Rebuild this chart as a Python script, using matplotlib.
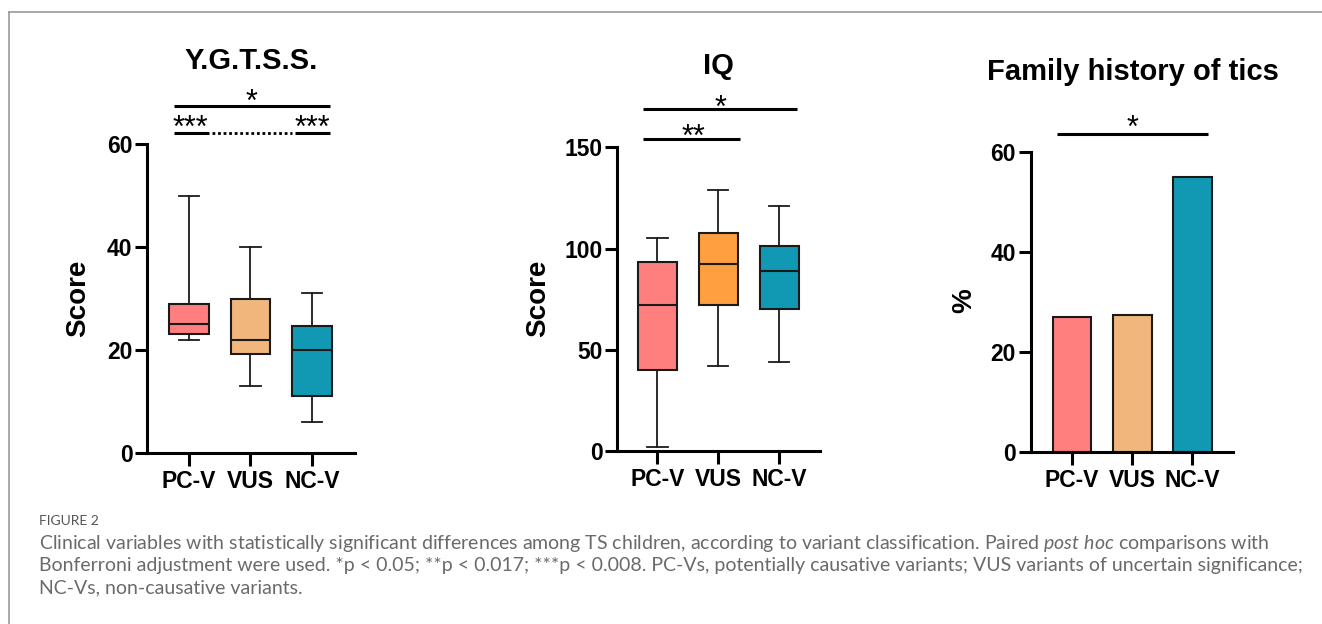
import matplotlib
matplotlib.use("Agg")
import matplotlib.pyplot as plt
from matplotlib.lines import Line2D
from matplotlib import font_manager

# ---------------- data ----------------
categories = ["PC-V", "VUS", "NC-V"]

# Y.G.T.S.S. box plot (whisker low, Q1, median, Q3, whisker high)
ygtss_whislo = [22, 13, 6]
ygtss_q1 = [23.1, 19.2, 11.1]
ygtss_med = [25, 22, 20]
ygtss_q3 = [28.9, 29.9, 24.7]
ygtss_whishi = [50, 40, 31]

# IQ box plot
iq_whislo = [2, 42, 44]
iq_q1 = [40, 72, 70.3]
iq_med = [72, 92.2, 89]
iq_q3 = [93.5, 107.8, 101.4]
iq_whishi = [105, 129, 121]

# Family history of tics (%)
family_pct = [27.1, 27.4, 54.9]

ygtss_yticks = [0, 20, 40, 60]
iq_yticks = [0, 50, 100, 150]
family_yticks = [0, 20, 40, 60]

colors_a = ["#FF7F7F", "#F0B67C", "#1199B3"]
colors_iq = ["#FF7F7F", "#FF9F3F", "#1199B3"]

W, H = 1322, 624
fig = plt.figure(figsize=(W / 100, H / 100), dpi=100)

FONT = "Liberation Sans"


def px(x, y):
    return x / W, (H - y) / H


def make_ax(left, right, top, bottom):
    l, b = px(left, bottom)
    r, t = px(right, top)
    ax = fig.add_axes([l, b, r - l, t - b])
    for s in ["top", "right"]:
        ax.spines[s].set_visible(False)
    for s in ["left", "bottom"]:
        ax.spines[s].set_linewidth(2.2)
    ax.tick_params(axis="both", length=9, width=2.2, direction="out")
    ax.tick_params(axis="y", pad=1.5)
    ax.tick_params(axis="x", pad=3)
    ax.patch.set_alpha(0)
    return ax


def style_ticks(ax, yticks):
    ax.set_yticks(yticks)
    ax.set_yticklabels([str(v) for v in yticks], fontsize=16.5,
                       fontweight="bold", family=FONT)
    ax.set_xticks(range(len(categories)))
    ax.set_xticklabels(categories, fontsize=16.5, fontweight="bold", family=FONT)


def box_panel(ax, lo, q1, med, q3, hi, colors):
    stats = []
    for i in range(len(categories)):
        stats.append(dict(whislo=lo[i], q1=q1[i], med=med[i], q3=q3[i],
                          whishi=hi[i], label=categories[i]))
    bp = ax.bxp(stats, positions=list(range(len(categories))), widths=0.64,
                capwidths=0.33, patch_artist=True, showfliers=False,
                boxprops=dict(linewidth=1.5, edgecolor="#1a1a1a"),
                medianprops=dict(color="#1a1a1a", linewidth=1.5),
                whiskerprops=dict(color="#1a1a1a", linewidth=1.3),
                capprops=dict(color="#1a1a1a", linewidth=1.3))
    for patch, c in zip(bp["boxes"], colors):
        patch.set_facecolor(c)


def sig_line(ax, x0, x1, y, ls="-", lw=2.2):
    ax.add_line(Line2D([x0, x1], [y, y], color="black", lw=lw, ls=ls,
                       clip_on=False, solid_capstyle="butt"))


def star(ax, x, y, s, fs=22):
    ax.annotate(s, xy=(x, y), xytext=(0, -0.60 * fs), textcoords="offset points",
                ha="center", va="baseline", fontsize=fs, family=FONT,
                annotation_clip=False)


# ---------------- panel 1: Y.G.T.S.S. ----------------
ax1 = make_ax(147, 355, 144, 453)
box_panel(ax1, ygtss_whislo, ygtss_q1, ygtss_med, ygtss_q3, ygtss_whishi, colors_a)
ax1.set_xlim(-0.68, 2.7)
ax1.set_ylim(0, 60)
style_ticks(ax1, ygtss_yticks)
sig_line(ax1, -0.244, 2.30, 67.4)
sig_line(ax1, -0.244, 0.32, 62.1)
sig_line(ax1, 1.72, 2.30, 62.1)
sig_line(ax1, 0.37, 1.68, 62.1, ls=(0, (1, 1)), lw=2.0)
star(ax1, 1.02, 70.0, "*")
star(ax1, 0.02, 64.9, "***")
star(ax1, 2.0, 64.9, "***")

# ---------------- panel 2: IQ ----------------
ax2 = make_ax(617.3, 820, 147.3, 451)
box_panel(ax2, iq_whislo, iq_q1, iq_med, iq_q3, iq_whishi, colors_iq)
ax2.set_xlim(-0.66, 2.67)
ax2.set_ylim(0, 150)
style_ticks(ax2, iq_yticks)
sig_line(ax2, -0.24, 2.29, 168.9)
sig_line(ax2, -0.24, 1.35, 154.1)
star(ax2, 1.03, 174.3, "*")
star(ax2, 0.59, 159.5, "**")

# ---------------- panel 3: Family history ----------------
ax3 = make_ax(1030.7, 1233, 151.7, 452.3)
ax3.bar(range(len(categories)), family_pct, width=0.645, color=colors_a,
        edgecolor="#1a1a1a", linewidth=1.5)
ax3.set_xlim(-0.69, 2.68)
ax3.set_ylim(0, 60)
style_ticks(ax3, family_yticks)
sig_line(ax3, -0.26, 2.27, 63.6)
star(ax3, 1.0, 66.6, "*")

# ---------------- titles & labels ----------------
for (x, y, s) in [(251, 69, "Y.G.T.S.S."), (718, 74, "IQ"),
                  (1132.5, 80, "Family history of tics")]:
    fig.text(*px(x, y), s, ha="center", va="baseline", fontsize=21,
             fontweight="bold", family=FONT)

for (x, y, s) in [(78, 298, "Score"), (538, 298, "Score"), (964, 301, "%")]:
    fig.text(*px(x, y), s, ha="center", va="center", rotation=90, fontsize=20,
             fontweight="bold", family=FONT)

# ---------------- caption ----------------
names = {f.name for f in font_manager.fontManager.ttflist}
CAP = "Liberation Sans Narrow" if "Liberation Sans Narrow" in names else "Lato"
plt.rcParams["mathtext.fontset"] = "custom"
plt.rcParams["mathtext.it"] = CAP + ":italic"
plt.rcParams["mathtext.rm"] = CAP
cap_color = "#6a6a6a"
fig.text(*px(39, 521), "FIGURE 2", ha="left", va="center", fontsize=10,
         color="#555555", family=CAP)
lines = [
    "Clinical variables with statistically significant differences among TS children, "
    "according to variant classification. Paired $\\mathit{post\\ hoc}$ comparisons with",
    "Bonferroni adjustment were used. *p < 0.05; **p < 0.017; ***p < 0.008. PC-Vs, "
    "potentially causative variants; VUS variants of uncertain significance;",
    "NC-Vs, non-causative variants.",
]
cap_texts = []
for i, s in enumerate(lines):
    t = fig.text(*px(39, 544 + 22 * i), s, ha="left", va="center", fontsize=13,
                 color=cap_color, family=CAP)
    cap_texts.append(t)
# fit caption width to the reference line length
fig.canvas.draw()
r = fig.canvas.get_renderer()
w = cap_texts[1].get_window_extent(r).width
fs = min(13 * (1270 / w), 14)
for t in cap_texts:
    t.set_fontsize(fs)

# ---------------- frame lines ----------------
fig.add_artist(Line2D([9 / W, 1], [(H - 12) / H] * 2, color="#9a9a9a", lw=1.2,
                      transform=fig.transFigure))
fig.add_artist(Line2D([9 / W] * 2, [0, (H - 12) / H], color="#9a9a9a", lw=1.2,
                      transform=fig.transFigure))

fig.savefig("out.png", dpi=100)
